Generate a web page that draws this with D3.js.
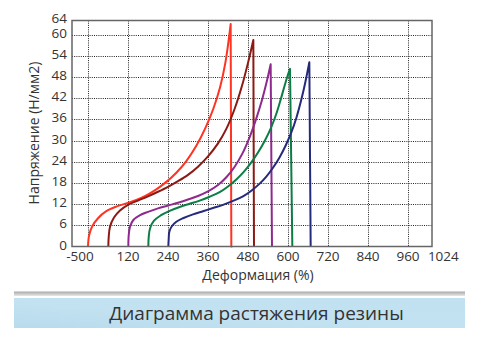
<!DOCTYPE html>
<html><head><meta charset="utf-8">
<script src="https://cdn.jsdelivr.net/npm/d3@7"></script>
<style>
body{margin:0;background:#fff;}
svg{display:block;font-family:"Open Sans",sans-serif;}
</style></head>
<body>
<svg id="chart" width="478" height="340"></svg>
<script>
// ---- data ----
const xTickValues = [0, 120, 240, 360, 480, 600, 720, 840, 960, 1024];
const xTickLabels = ["-500", "120", "240", "360", "480", "600", "720", "840", "960", "1024"];
const yTickValues = [0, 6, 12, 18, 24, 30, 36, 42, 48, 54, 60, 64];
const xGridValues = [0, 120, 240, 360, 480, 600, 720, 840, 960];
const yGridValues = [6, 12, 18, 24, 30, 36, 42, 48, 54, 60];

const redStrain   = [0, 3, 12, 30, 55, 85, 115, 145, 175, 205, 235, 265, 295, 325, 352, 376, 396, 412, 428, 430, 433];
const redStress   = [0, 3, 5.6, 8, 10, 11.3, 12.2, 13.2, 14.5, 16.2, 18.3, 20.9, 24.2, 28.5, 33.5, 39, 45, 52, 63, 0, 0];
const brownStrain = [61, 62, 66, 78, 96, 120, 150, 180, 210, 240, 270, 300, 330, 360, 390, 415, 440, 462, 480, 496, 498];
const brownStress = [0, 2.5, 5.6, 8.2, 10.2, 11.8, 13, 14.2, 15.5, 16.9, 18.5, 20.3, 22.6, 25.5, 29.2, 33.3, 39, 45.5, 52, 58.5, 0];
const purpleStrain = [121, 122, 126, 136, 155, 180, 210, 240, 270, 300, 330, 360, 390, 415, 440, 463, 485, 505, 522, 537, 548, 552];
const purpleStress = [0, 3, 5.6, 7.5, 8.8, 9.8, 10.8, 11.6, 12.4, 13.3, 14.3, 15.6, 17.4, 19.6, 22.6, 26.3, 31, 36.3, 41.5, 47, 51.6, 0];
const greenStrain = [181, 182, 186, 198, 218, 245, 275, 305, 335, 365, 395, 420, 445, 468, 490, 510, 530, 548, 564, 578, 590, 600, 606, 613];
const greenStress = [0, 2.5, 5.1, 7.3, 8.8, 10.1, 11.2, 12.1, 13, 14.1, 15.4, 17, 19, 21.2, 23.8, 26.6, 29.9, 33.4, 37.3, 41.6, 45.6, 48.7, 50.3, 0];
const navyStrain  = [241, 242, 244, 252, 265, 285, 315, 345, 375, 405, 435, 465, 490, 515, 535, 555, 575, 593, 610, 625, 640, 652, 664, 668];
const navyStress  = [0, 2, 4.2, 5.8, 7, 8, 9.1, 10, 10.9, 11.8, 12.9, 14.2, 15.8, 17.8, 19.8, 22.3, 25.3, 28.6, 32.3, 36.4, 41.6, 46.5, 52.2, 0];

const seriesColors = ["#ff3322", "#8b1a14", "#8e2a8e", "#0b7d45", "#262a7c"];
const seriesData = [
  [redStrain, redStress], [brownStrain, brownStress], [purpleStrain, purpleStress],
  [greenStrain, greenStress], [navyStrain, navyStress]
];

// ---- layout ----
const svg = d3.select("#chart");
const pL = 72, pR = 432, pT = 20.5, pB = 246.5;
const x = d3.scaleLinear().domain([-48, 1032]).range([pL, pR]);
const y = d3.scaleLinear().domain([0, 64]).range([pB, pT]);

// banner
const defs = svg.append("defs");
const g1 = defs.append("linearGradient").attr("id","bar").attr("x1",0).attr("y1",0).attr("x2",0).attr("y2",1);
g1.append("stop").attr("offset","0%").attr("stop-color","#a8a8a8");
g1.append("stop").attr("offset","100%").attr("stop-color","#e8e8e8");
const g2 = defs.append("linearGradient").attr("id","blue").attr("x1",0).attr("y1",1).attr("x2",1).attr("y2",0);
g2.append("stop").attr("offset","0%").attr("stop-color","#b8dbed");
g2.append("stop").attr("offset","45%").attr("stop-color","#c3e2f1");
g2.append("stop").attr("offset","100%").attr("stop-color","#c1e1f0");
svg.append("rect").attr("x",14).attr("y",291.5).attr("width",451).attr("height",4.5).attr("fill","url(#bar)");
svg.append("rect").attr("x",14).attr("y",298).attr("width",451).attr("height",30).attr("fill","url(#blue)");
svg.append("text").attr("x",256.5).attr("y",312.5).attr("text-anchor","middle")
  .attr("dominant-baseline","central").attr("font-size",19).attr("fill","#333")
  .text("Диаграмма растяжения резины");

// plot background
svg.append("rect").attr("x",pL).attr("y",pT).attr("width",pR-pL).attr("height",pB-pT).attr("fill","#fff");

// grid
const grid = svg.append("g").attr("stroke","#222").attr("stroke-width",1).attr("stroke-dasharray","1,1.2");
grid.selectAll("line.v").data(xGridValues).join("line").attr("class","v")
  .attr("x1",d=>Math.round(x(d))+0.5).attr("x2",d=>Math.round(x(d))+0.5).attr("y1",pT).attr("y2",pB);
grid.selectAll("line.h").data(yGridValues).join("line").attr("class","h")
  .attr("y1",d=>Math.round(y(d))+0.5).attr("y2",d=>Math.round(y(d))+0.5).attr("x1",pL).attr("x2",pR);

// curves
const rise = d3.line().x(d=>x(d[0])).y(d=>y(d[1])).curve(d3.curveCatmullRom.alpha(0.5));
seriesData.forEach((s, i) => {
  const pts = s[0].map((v, k) => [v, s[1][k]]);
  const peak = d3.maxIndex(pts, d => d[1]);
  let dstr = rise(pts.slice(0, peak + 1));
  pts.slice(peak + 1).forEach(p => { dstr += "L" + x(p[0]) + "," + y(p[1]); });
  svg.append("path").attr("d", dstr).attr("fill","none").attr("stroke",seriesColors[i])
    .attr("stroke-width",2).attr("stroke-linejoin","round");
});

// frame
svg.append("rect").attr("x",pL).attr("y",pT).attr("width",pR-pL).attr("height",pB-pT)
  .attr("fill","none").attr("stroke","#666").attr("stroke-width",1.5);

// axes labels
const yl = svg.append("g").attr("font-size",13.5).attr("fill","#333").attr("text-anchor","end");
yl.selectAll("text").data(yTickValues).join("text")
  .attr("x",67).attr("y",(d,i)=>y(d)-2 - (i===yTickValues.length-1 ? 1 : 0)).attr("dominant-baseline","central").text(d=>d);

const xl = svg.append("g").attr("font-size",13.5).attr("fill","#333").attr("text-anchor","middle");
xl.selectAll("text").data(xTickValues).join("text")
  .attr("x",(d,i)=>x(d) + (i===0 ? -8 : (i===xTickValues.length-1 ? 14 : 0)))
  .attr("y",256).attr("dominant-baseline","central").text((d,i)=>xTickLabels[i]);

svg.append("text").attr("x",258).attr("y",274.5).attr("text-anchor","middle").attr("dominant-baseline","central")
  .attr("font-size",14).attr("fill","#333").text("Деформация (%)");
svg.append("text").attr("transform","translate(33,133) rotate(-90)").attr("text-anchor","middle")
  .attr("dominant-baseline","central").attr("font-size",14).attr("fill","#333").text("Напряжение (Н/мм2)");
</script>
</body></html>
